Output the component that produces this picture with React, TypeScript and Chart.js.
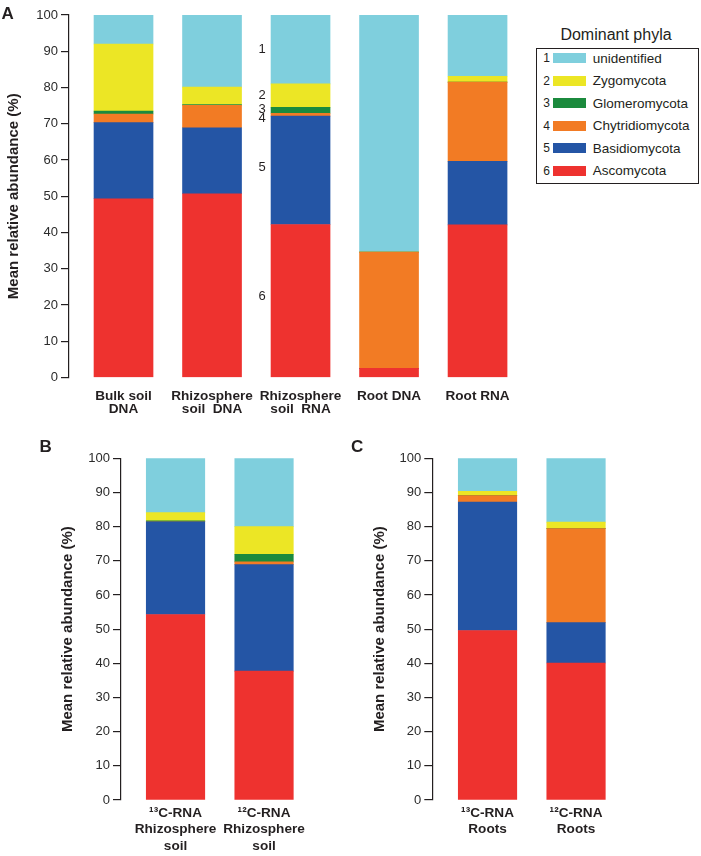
import React, { useEffect, useRef } from "react";
import { Chart, registerables } from "chart.js";

Chart.register(...registerables);

// ---------- data ----------
const PHYLA_NAMES = ["unidentified", "Zygomycota", "Glomeromycota", "Chytridiomycota", "Basidiomycota", "Ascomycota"];
const PHYLA_NUMBERS = ["1", "2", "3", "4", "5", "6"];
const PHYLA_COLORS = ["#7fcfdd", "#ece625", "#1b8a3d", "#f27b24", "#2455a5", "#ee322f"];

// Panel A
const categoriesA = [["Bulk soil", "DNA"], ["Rhizosphere", "soil  DNA"], ["Rhizosphere", "soil  RNA"], ["Root DNA"], ["Root RNA"]];
const ascoA = [49.3, 50.7, 42.2, 2.5, 42.1];
const basidioA = [21.0, 18.2, 29.9, 0, 17.5];
const chytridA = [2.4, 6.2, 0.8, 32.1, 21.9];
const glomeroA = [0.8, 0.2, 1.6, 0, 0];
const zygoA = [18.5, 4.8, 6.5, 0, 1.6];
const unidA = [8.0, 19.9, 19.0, 65.4, 16.9];

// Panel B
const categoriesB = [["\u00B9\u00B3C-RNA", "Rhizosphere", "soil"], ["\u00B9\u00B2C-RNA", "Rhizosphere", "soil"]];
const ascoB = [54.3, 37.7];
const basidioB = [27.1, 31.2];
const chytridB = [0, 0.8];
const glomeroB = [0.3, 2.2];
const zygoB = [2.4, 8.1];
const unidB = [15.9, 20.0];

// Panel C
const categoriesC = [["\u00B9\u00B3C-RNA", "Roots"], ["\u00B9\u00B2C-RNA", "Roots"]];
const ascoC = [49.6, 40.1];
const basidioC = [37.6, 11.8];
const chytridC = [1.9, 27.5];
const glomeroC = [0, 0];
const zygoC = [1.2, 1.9];
const unidC = [9.7, 18.7];

const Y_TITLE = "Mean relative abundance (%)";
const LEGEND_TITLE = "Dominant phyla";

// ---------- styles ----------
const FONT = "'Liberation Sans', Arial, Helvetica, sans-serif";
const INK = "#231f20";

type PanelSpec = {
  categories: string[][];
  series: number[][]; // in legend order: unid, zygo, glomero, chytrid, basidio, asco
  xMin: number;
  xMax: number;
  barThickness: number;
  yWidth: number;
  xHeight: number;
  pad: { left: number; right: number; top: number; bottom: number };
  titlePad: number;
  xFontSize: number;
  xLineHeight: string;
  xPadding: number;
  numbered?: number; // index of bar to annotate with phylum numbers
};

const numberOffsets = [0, 0, -1, 4, -3, -4];

const numberPlugin = {
  id: "phylumNumbers",
  afterDatasetsDraw(chart: any, _args: any, opts: any) {
    if (opts == null || opts.bar == null || opts.bar < 0) return;
    const ctx = chart.ctx;
    ctx.save();
    ctx.font = `13px ${FONT}`;
    ctx.fillStyle = INK;
    ctx.textAlign = "center";
    ctx.textBaseline = "middle";
    chart.data.datasets.forEach((ds: any, di: number) => {
      const meta = chart.getDatasetMeta(di);
      const el: any = meta.data[opts.bar];
      if (!el) return;
      const raw = ds.data[opts.bar];
      if (!raw || !(raw.y > 0)) return;
      const p = el.getProps(["x", "y", "base", "width"], true);
      const idx = ds.phylumIndex;
      const mid = (p.y + p.base) / 2 + numberOffsets[idx];
      ctx.fillText(PHYLA_NUMBERS[idx], p.x - p.width / 2 - 9, mid);
    });
    ctx.restore();
  },
};

function buildConfig(p: PanelSpec): any {
  // stack from bottom (Ascomycota) to top (unidentified)
  const order = [5, 4, 3, 2, 1, 0];
  const datasets = order.map((pi) => ({
    label: PHYLA_NAMES[pi],
    phylumIndex: pi,
    data: p.series[pi].map((v, i) => ({ x: i + 1, y: v })),
    backgroundColor: PHYLA_COLORS[pi],
    borderWidth: 0,
    barThickness: p.barThickness,
  }));
  return {
    type: "bar",
    data: { datasets },
    plugins: [numberPlugin],
    options: {
      animation: false,
      responsive: false,
      maintainAspectRatio: false,
      devicePixelRatio: 1,
      events: [],
      layout: { padding: p.pad },
      plugins: {
        legend: { display: false },
        tooltip: { enabled: false },
        phylumNumbers: { bar: p.numbered ?? -1 },
      },
      scales: {
        x: {
          type: "linear",
          stacked: true,
          offset: false,
          min: p.xMin,
          max: p.xMax,
          grid: { display: false, drawTicks: false, offset: false },
          border: { display: false },
          afterFit: (s: any) => {
            s.height = p.xHeight;
          },
          ticks: {
            stepSize: 1,
            includeBounds: false,
            autoSkip: false,
            maxRotation: 0,
            minRotation: 0,
            padding: p.xPadding,
            color: INK,
            font: { family: FONT, size: p.xFontSize, weight: "bold", lineHeight: p.xLineHeight },
            callback: (v: number) => {
              const c = p.categories[Math.round(v) - 1];
              return Math.abs(v - Math.round(v)) < 1e-6 && c ? c : "";
            },
          },
        },
        y: {
          stacked: true,
          min: 0,
          max: 100,
          afterFit: (s: any) => {
            s.width = p.yWidth;
          },
          grid: { drawOnChartArea: false, drawTicks: true, tickLength: 8, color: INK, lineWidth: 1.2 },
          border: { display: true, color: INK, width: 1.2 },
          ticks: { stepSize: 10, padding: 3, color: "#2b2b2b", font: { family: FONT, size: 13 } },
          title: {
            display: true,
            text: Y_TITLE,
            color: INK,
            font: { family: FONT, size: 15, weight: "bold", lineHeight: 1.2 },
            padding: { top: p.titlePad, bottom: 0 },
          },
        },
      },
    },
  };
}

function ChartPanel({ spec, left, top, width, height }: { spec: PanelSpec; left: number; top: number; width: number; height: number }) {
  const ref = useRef<HTMLCanvasElement | null>(null);
  useEffect(() => {
    if (!ref.current) return;
    const chart = new Chart(ref.current, buildConfig(spec));
    return () => chart.destroy();
  }, [spec]);
  return (
    <canvas
      ref={ref}
      width={width}
      height={height}
      style={{ position: "absolute", left, top, width, height }}
    />
  );
}

const specA: PanelSpec = {
  categories: categoriesA,
  series: [unidA, zygoA, glomeroA, chytridA, basidioA, ascoA],
  xMin: 0.384,
  xMax: 5.5,
  barThickness: 59,
  yWidth: 69,
  xHeight: 50,
  pad: { left: 0, right: 8.2, top: 15, bottom: 12.5 },
  titlePad: 5,
  xFontSize: 13.6,
  xLineHeight: "12.8px",
  xPadding: 12.6,
  numbered: 2,
};

const specB: PanelSpec = {
  categories: categoriesB,
  series: [unidB, zygoB, glomeroB, chytridB, basidioB, ascoB],
  xMin: 0.384,
  xMax: 2.5,
  barThickness: 58.5,
  yWidth: 69,
  xHeight: 50,
  pad: { left: 0, right: 13.7, top: 18.3, bottom: 6 },
  titlePad: 6.8,
  xFontSize: 13.6,
  xLineHeight: "16.7px",
  xPadding: 4.5,
};

const specC: PanelSpec = {
  categories: categoriesC,
  series: [unidC, zygoC, glomeroC, chytridC, basidioC, ascoC],
  xMin: 0.376,
  xMax: 2.5,
  barThickness: 58.5,
  yWidth: 68.3,
  xHeight: 50,
  pad: { left: 0, right: 13.7, top: 18.3, bottom: 6 },
  titlePad: 6.5,
  xFontSize: 13.6,
  xLineHeight: "16.7px",
  xPadding: 4.5,
};

const legendRowCenters = [58.3, 80.8, 103.3, 125.8, 148.3, 170.8];

function Legend() {
  return (
    <>
      <div
        style={{
          position: "absolute",
          left: 535,
          top: 27.2,
          width: 162,
          textAlign: "center",
          font: `16px/1 ${FONT}`,
          color: INK,
          whiteSpace: "nowrap",
        }}
      >
        {LEGEND_TITLE}
      </div>
      <div
        style={{
          position: "absolute",
          left: 535.5,
          top: 47.5,
          width: 161,
          height: 134,
          border: `1.5px solid ${INK}`,
        }}
      />
      {PHYLA_NAMES.map((name, i) => (
        <React.Fragment key={name}>
          <div
            style={{
              position: "absolute",
              left: 538,
              width: 12,
              top: legendRowCenters[i] - 5.9,
              textAlign: "right",
              font: `12px/1 ${FONT}`,
              color: INK,
            }}
          >
            {PHYLA_NUMBERS[i]}
          </div>
          <div
            style={{
              position: "absolute",
              left: 552.7,
              top: legendRowCenters[i] - 5,
              width: 33,
              height: 10,
              background: PHYLA_COLORS[i],
            }}
          />
          <div
            style={{
              position: "absolute",
              left: 592.7,
              top: legendRowCenters[i] - 6.4,
              font: `13.5px/1 ${FONT}`,
              color: INK,
              whiteSpace: "nowrap",
            }}
          >
            {name}
          </div>
        </React.Fragment>
      ))}
    </>
  );
}

function PanelLetter({ text, left, top }: { text: string; left: number; top: number }) {
  return (
    <div style={{ position: "absolute", left, top, font: `bold 17px/1 ${FONT}`, color: INK }}>{text}</div>
  );
}

export default function App() {
  return (
    <div style={{ position: "absolute", left: 0, top: 0, width: 701, height: 856, background: "#fff", overflow: "hidden" }}>
      <ChartPanel spec={specA} left={0} top={0} width={530} height={440} />
      <ChartPanel spec={specB} left={52} top={440} width={270} height={416} />
      <ChartPanel spec={specC} left={364} top={440} width={270} height={416} />
      <Legend />
      <PanelLetter text="A" left={1.5} top={4.5} />
      <PanelLetter text="B" left={39.5} top={438.3} />
      <PanelLetter text="C" left={351} top={438.3} />
    </div>
  );
}
